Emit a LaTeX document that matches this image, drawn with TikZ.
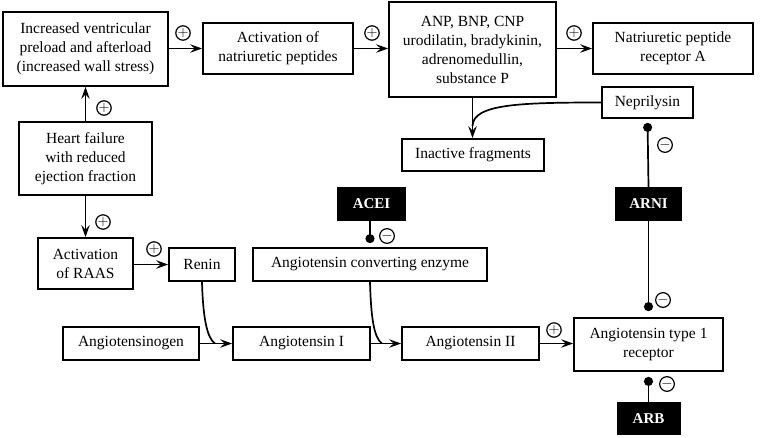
\documentclass[tikz,border=0pt]{standalone}
\usepackage{fontspec}
\setmainfont{Liberation Serif}
\usetikzlibrary{arrows.meta}
\tikzset{
  box/.style={draw, line width=1.8pt, align=center, inner sep=0pt, font=\fontsize{15.5}{19}\selectfont},
  drug/.style={fill=black, text=white, inner sep=0pt, font=\fontsize{15}{18}\selectfont\bfseries},
  arr/.style={line width=1.7pt, -{Stealth[length=12pt,width=8.5pt,inset=4.5pt]}},
  con/.style={line width=1.7pt},
  inh/.style={line width=1.7pt, -{Circle[length=9pt]}},
  sgn/.style={draw, circle, line width=1.2pt, minimum size=14pt, inner sep=0pt, font=\fontsize{14}{14}\selectfont}
}
\begin{document}
\begin{tikzpicture}[x=1pt,y=-1pt]
\useasboundingbox (0,0) rectangle (762,437);
% nodes
\node[box, minimum width=165pt, minimum height=74pt] (inc) at (85.5,49) {Increased ventricular\\preload and afterload\\(increased wall stress)};
\node[box, minimum width=150pt, minimum height=51pt] (actnp) at (278,48.5) {Activation of\\natriuretic peptides};
\node[box, minimum width=167pt, minimum height=95pt] (anp) at (472.5,49.5) {ANP, BNP, CNP\\urodilatin, bradykinin,\\adrenomedullin,\\substance P};
\node[box, minimum width=160pt, minimum height=51pt] (npra) at (673,48.5) {Natriuretic peptide\\receptor A};
\node[box, minimum width=91pt, minimum height=31pt] (nep) at (647.5,102.5) {Neprilysin};
\node[box, minimum width=142pt, minimum height=32pt] (inact) at (473,155) {Inactive fragments};
\node[box, minimum width=133pt, minimum height=73pt] (hf) at (85.5,158.5) {Heart failure\\with reduced\\ejection fraction};
\node[box, minimum width=95pt, minimum height=51pt] (raas) at (85.5,263.5) {Activation\\of RAAS};
\node[box, minimum width=66pt, minimum height=33pt] (renin) at (202,264.5) {Renin};
\node[box, minimum width=234pt, minimum height=33pt] (ace) at (370,264.5) {Angiotensin converting enzyme};
\node[drug, minimum width=69pt, minimum height=34pt] (acei) at (371.5,204) {ACEI};
\node[drug, minimum width=67pt, minimum height=34pt] (arni) at (648.5,204) {ARNI};
\node[box, minimum width=136pt, minimum height=33pt] (agt) at (131,343.5) {Angiotensinogen};
\node[box, minimum width=137pt, minimum height=33pt] (ang1) at (301.5,343.5) {Angiotensin I};
\node[box, minimum width=137pt, minimum height=33pt] (ang2) at (470.5,343.5) {Angiotensin II};
\node[box, minimum width=149pt, minimum height=53pt] (at1) at (648.5,344.5) {Angiotensin type 1\\receptor};
\node[drug, minimum width=64pt, minimum height=33pt] (arb) at (648.5,418.5) {ARB};
% merge points
\coordinate (m1) at (215,343.5);
\coordinate (m2) at (382,343.5);
\coordinate (m3) at (472.5,126);
% connectors
\draw[arr] (inc.east |- actnp.west) -- (actnp.west);
\draw[arr] (actnp.east) -- (anp.west |- actnp.east);
\draw[arr] (anp.east |- npra.west) -- (npra.west);
\draw[arr] (hf.north) -- (inc.south);
\draw[arr] (hf.south) -- (raas.north);
\draw[arr] (raas.east |- renin.west) -- (renin.west);
\draw[arr] (agt.east) -- (ang1.west);
\draw[arr] (ang1.east) -- (ang2.west);
\draw[arr] (ang2.east) -- (at1.west |- ang2.east);
\draw[arr] (anp.south) -- (inact.north -| anp.south);
\draw[con] (renin.south) .. controls (203,318) and (207,338) .. (m1);
\draw[con] (ace.south) .. controls (371,318) and (374,338) .. (m2);
\draw[con] (nep.west) .. controls (520,102.5) and (473,104) .. (m3);
\draw[inh, shorten >=4pt] (arni.north) -- (nep.south);
\draw[inh, shorten >=6pt] (arni.south) -- (at1.north);
\draw[inh, shorten >=5pt] (arb.north) -- (at1.south);
\draw[inh, shorten >=4pt] (acei.south -| ace.north) -- (ace.north);
% signs
\node[sgn] (s1) at (183,33) {$+$};
\node[sgn] (s2) at (372,33) {$+$};
\node[sgn] (s3) at (574,33) {$+$};
\node[sgn] (s4) at (104,108) {$+$};
\node[sgn] (s5) at (103,222) {$+$};
\node[sgn] (s6) at (154,249) {$+$};
\node[sgn] (s7) at (554,330) {$+$};
\node[sgn] (s8) at (387,236) {$-$};
\node[sgn] (s9) at (665,145) {$-$};
\node[sgn] (s10) at (663,300) {$-$};
\node[sgn] (s11) at (667,384) {$-$};
\end{tikzpicture}
\end{document}
